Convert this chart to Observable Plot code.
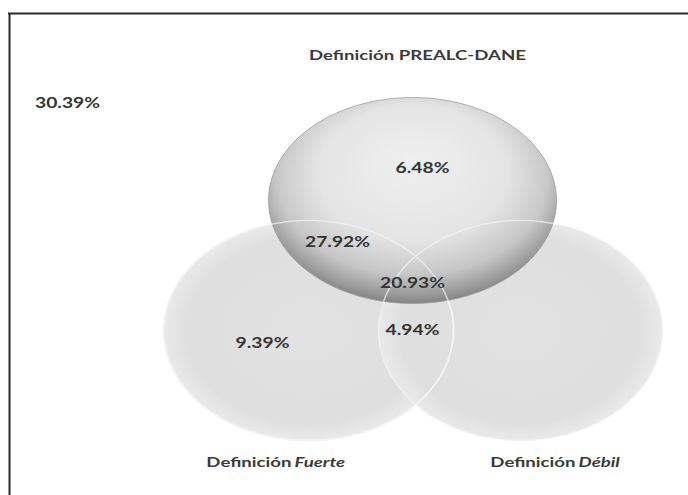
<!DOCTYPE html>
<html><head><meta charset="utf-8">
<script src="https://cdn.jsdelivr.net/npm/d3@7"></script>
<script src="https://cdn.jsdelivr.net/npm/@observablehq/plot@0.6"></script>
<style>body{margin:0;background:#fff;}</style>
</head><body><div id="chart"></div>
<script>
// ---- data ----
const setPrefix = "Definición";
const sets = ["PREALC-DANE", "Fuerte", "Débil"];
const regionNames = ["Ninguna", "Solo PREALC-DANE", "PREALC-DANE y Fuerte", "Las tres", "Fuerte y Débil", "Solo Fuerte"];
const regionShares = [30.39, 6.48, 27.92, 20.93, 4.94, 9.39];

// ---- layout (pixels) ----
const W = 688, H = 495;
const shapes = [
  {cx: 412, cy: 200, rx: 144, ry: 103},
  {cx: 308, cy: 330, rx: 145, ry: 110},
  {cx: 520, cy: 330, rx: 142, ry: 110}
];
const setLabelPos = [{x: 417, y: 55}, {x: 293, y: 462}, {x: 577, y: 462}];
const regionLabelPos = [[67,103],[422,168],[337,242],[412,283],[412,330],[262,343]];
const framePos = {x: 9, y: 13};
const stretch = 1.33;

const ring = (s) => d3.range(0, 360, 2).map(a => ({
  x: s.cx + s.rx * Math.cos(a * Math.PI / 180),
  y: s.cy + s.ry * Math.sin(a * Math.PI / 180)
}));

const regionData = regionShares.map((v, i) => ({
  name: regionNames[i], label: v.toFixed(2) + "%",
  x: regionLabelPos[i][0], y: regionLabelPos[i][1]
}));

const font = "Lato, sans-serif";
const textColor = "#3a3a3a";

const plot = Plot.plot({
  width: W, height: H, margin: 0,
  x: {domain: [0, W], range: [0, W], axis: null},
  y: {domain: [0, H], range: [0, H], axis: null},
  style: {background: "#fff", fontFamily: font},
  marks: [
    Plot.line(ring(shapes[1]), {x: "x", y: "y", curve: "linear-closed", fill: "url(#gLow)", stroke: "none"}),
    Plot.line(ring(shapes[2]), {x: "x", y: "y", curve: "linear-closed", fill: "url(#gLow)", stroke: "none"}),
    Plot.line(ring(shapes[1]), {x: "x", y: "y", curve: "linear-closed", fill: "none", stroke: "#f6f6f6", strokeWidth: 1.5}),
    Plot.line(ring(shapes[0]), {x: "x", y: "y", curve: "linear-closed", fill: "url(#gTop)", fillOpacity: 0.93, stroke: "#a0a0a0", strokeWidth: 0.8}),
    Plot.line(ring(shapes[1]), {x: "x", y: "y", curve: "linear-closed", fill: "none", stroke: "#f4f4f4", strokeOpacity: 0.7, strokeWidth: 1.5}),
    Plot.line(ring(shapes[2]), {x: "x", y: "y", curve: "linear-closed", fill: "none", stroke: "#f4f4f4", strokeOpacity: 0.7, strokeWidth: 1.5}),
    Plot.ruleX([framePos.x], {y1: framePos.y, y2: H, stroke: "#2b2b2b", strokeWidth: 2}),
    Plot.ruleY([framePos.y], {x1: framePos.x - 1, x2: W, stroke: "#2b2b2b", strokeWidth: 2}),
    // set labels
    Plot.text([setPrefix + " " + sets[0]], {x: setLabelPos[0].x, y: setLabelPos[0].y, text: d => d, fontSize: 14, fontWeight: "bold", fill: textColor}),
    Plot.text([1, 2], {x: i => setLabelPos[i].x, y: i => setLabelPos[i].y, text: () => setPrefix, textAnchor: "end", dx: -2, fontSize: 14, fontWeight: "bold", fill: textColor}),
    Plot.text([1, 2], {x: i => setLabelPos[i].x, y: i => setLabelPos[i].y, text: i => sets[i], textAnchor: "start", dx: 1, fontSize: 14, fontWeight: "bold", fontStyle: "italic", fill: textColor}),
    // region shares
    Plot.text(regionData, {x: "x", y: "y", text: "label", fontSize: 14.5, fontWeight: "bold", fill: "#353535"})
  ]
});

const defs = document.createElementNS("http://www.w3.org/2000/svg", "defs");
defs.innerHTML = `
<radialGradient id="gTop" cx="0.5" cy="0.42" r="0.6" fx="0.5" fy="0.3">
  <stop offset="0" stop-color="#eeeeee"/>
  <stop offset="0.55" stop-color="#e2e2e2"/>
  <stop offset="0.78" stop-color="#c4c4c4"/>
  <stop offset="0.92" stop-color="#929292"/>
  <stop offset="1" stop-color="#707070"/>
</radialGradient>
<radialGradient id="gLow" cx="0.5" cy="0.5" r="0.5">
  <stop offset="0" stop-color="#e1e1e1"/>
  <stop offset="0.85" stop-color="#dfdfdf"/>
  <stop offset="1" stop-color="#eaeaea"/>
</radialGradient>`;
plot.insertBefore(defs, plot.firstChild);
plot.querySelectorAll("text").forEach(t => {
  const tr = t.getAttribute("transform") || "";
  t.setAttribute("transform", tr + ` scale(${stretch},1)`);
});
document.getElementById("chart").appendChild(plot);
</script>
</body></html>
